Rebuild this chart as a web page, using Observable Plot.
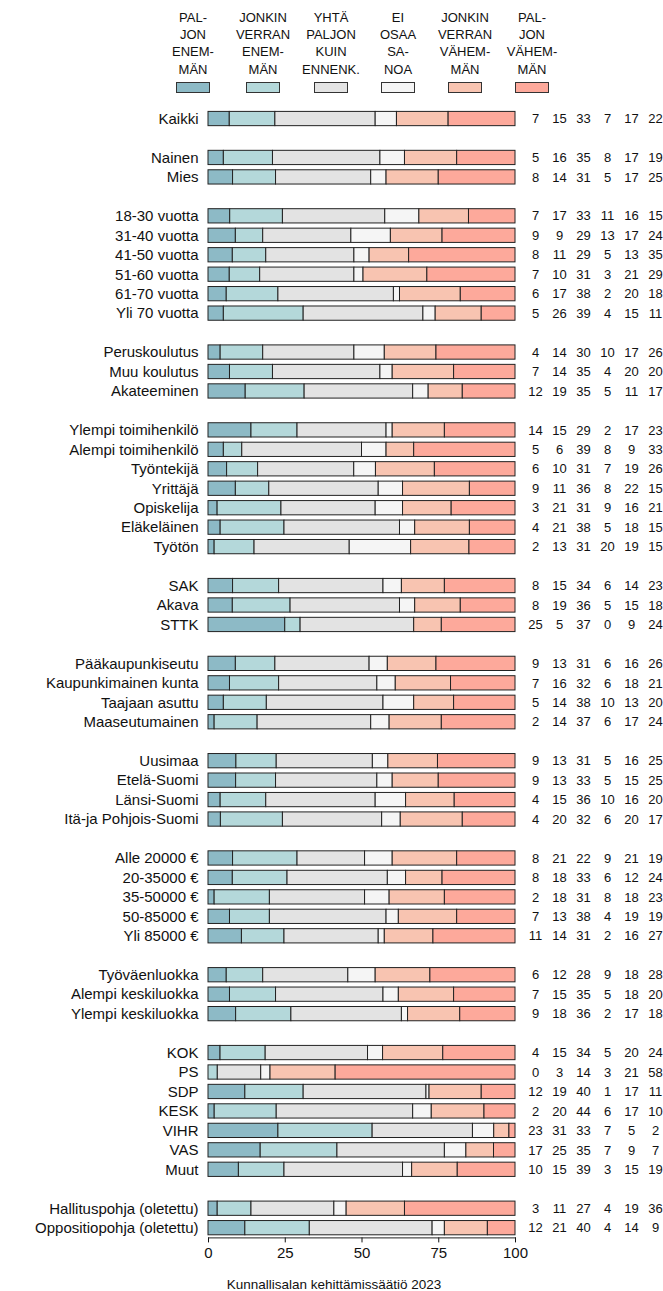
<!DOCTYPE html>
<html>
<head>
<meta charset="utf-8">
<script src="https://cdn.jsdelivr.net/npm/d3@7"></script>
<script src="https://cdn.jsdelivr.net/npm/@observablehq/plot@0.6"></script>
<style>
  html, body { margin: 0; padding: 0; background: #fff; }
  body { width: 663px; height: 1291px; position: relative; overflow: hidden;
         font-family: "Liberation Sans", Arial, sans-serif; color: #111; }
  #chart { position: absolute; left: 0; top: 0; z-index: 1; }
  #legend { position: absolute; left: 0; top: 0; z-index: 2; }
  .leg { position: absolute; top: 9px; width: 80px; margin-left: -40px; text-align: center;
         font-size: 13px; line-height: 17.2px; color: #111; }
  .leg .sw { width: 32px; height: 9px; border: 1px solid #333; margin: 4px auto 0 auto; }
  #caption { position: absolute; top: 1277px; left: 0; width: 668px; text-align: center; font-size: 13.5px; color: #111; z-index: 2; }
</style>
</head>
<body>
<div id="legend"></div>
<div id="chart"></div>
<div id="caption">Kunnallisalan kehittämissäätiö 2023</div>
<script>
// ---- data ----
const categories = [
  "Kaikki",
  "Nainen", "Mies",
  "18-30 vuotta", "31-40 vuotta", "41-50 vuotta", "51-60 vuotta", "61-70 vuotta", "Yli 70 vuotta",
  "Peruskoulutus", "Muu koulutus", "Akateeminen",
  "Ylempi toimihenkilö", "Alempi toimihenkilö", "Työntekijä", "Yrittäjä", "Opiskelija", "Eläkeläinen", "Työtön",
  "SAK", "Akava", "STTK",
  "Pääkaupunkiseutu", "Kaupunkimainen kunta", "Taajaan asuttu", "Maaseutumainen",
  "Uusimaa", "Etelä-Suomi", "Länsi-Suomi", "Itä-ja Pohjois-Suomi",
  "Alle 20000 €", "20-35000 €", "35-50000 €", "50-85000 €", "Yli 85000 €",
  "Työväenluokka", "Alempi keskiluokka", "Ylempi keskiluokka",
  "KOK", "PS", "SDP", "KESK", "VIHR", "VAS", "Muut",
  "Hallituspohja (oletettu)", "Oppositiopohja (oletettu)"
];
const groupSizes = [1, 2, 6, 3, 7, 3, 4, 4, 5, 3, 7, 2];

const seriesNames = [
  "PAL-\nJON\nENEM-\nMÄN",
  "JONKIN\nVERRAN\nENEM-\nMÄN",
  "YHTÄ\nPALJON\nKUIN\nENNENK.",
  "EI\nOSAA\nSA-\nNOA",
  "JONKIN\nVERRAN\nVÄHEM-\nMÄN",
  "PAL-\nJON\nVÄHEM-\nMÄN"
];
const seriesColors = ["#8dbac6", "#b4d8da", "#e3e3e3", "#f5f5f5", "#f8c4b1", "#fda99b"];

const paljonEnemman = [7, 5,8, 7,9,8,7,6,5, 4,7,12, 14,5,6,9,3,4,2, 8,8,25, 9,7,5,2, 9,9,4,4, 8,8,2,7,11, 6,7,9, 4,0,12,2,23,17,10, 3,12];
const jonkinEnemman = [15, 16,14, 17,9,11,10,17,26, 14,14,19, 15,6,10,11,21,21,13, 15,19,5, 13,16,14,14, 13,13,15,20, 21,18,18,13,14, 12,15,18, 15,3,19,20,31,25,15, 11,21];
const yhtaPaljon    = [33, 35,31, 33,29,29,31,38,39, 30,35,35, 29,39,31,36,31,38,31, 34,36,37, 31,32,38,37, 31,33,36,32, 22,33,31,38,31, 28,35,36, 34,14,40,44,33,35,39, 27,40];
const eiOsaaSanoa   = [7, 8,5, 11,13,5,3,2,4, 10,4,5, 2,8,7,8,9,5,20, 6,5,0, 6,6,10,6, 5,5,10,6, 9,6,8,4,2, 9,5,2, 5,3,1,6,7,7,3, 4,4];
const jonkinVahemman= [17, 17,17, 16,17,13,21,20,15, 17,20,11, 17,9,19,22,16,18,19, 14,15,9, 16,18,13,17, 16,15,16,20, 21,12,18,19,16, 18,18,17, 20,21,17,17,5,9,15, 19,14];
const paljonVahemman= [22, 19,25, 15,24,35,29,18,11, 26,20,17, 23,33,26,15,21,15,15, 23,18,24, 26,21,20,24, 25,25,20,17, 19,24,23,19,27, 28,20,18, 24,58,11,10,2,7,19, 36,9];

const xTicks = [0, 25, 50, 75, 100];

// ---- build tables ----
const seriesValues = [paljonEnemman, jonkinEnemman, yhtaPaljon, eiOsaaSanoa, jonkinVahemman, paljonVahemman];

// y domain with blank spacer rows between groups
const yDomain = [];
{
  let k = 0;
  groupSizes.forEach((n, g) => {
    if (g > 0) yDomain.push("__gap" + g);
    for (let j = 0; j < n; j++) yDomain.push(categories[k++]);
  });
}

const rows = categories.map((c, i) => ({category: c, values: seriesValues.map(s => s[i])}));
const tidy = [];
rows.forEach(r => r.values.forEach((v, si) => tidy.push({category: r.category, series: seriesNames[si], value: v})));

// ---- legend (HTML) ----
const legendCenters = [193, 263, 331, 398, 465, 532];
const legend = document.getElementById("legend");
seriesNames.forEach((name, i) => {
  const d = document.createElement("div");
  d.className = "leg";
  d.style.left = legendCenters[i] + "px";
  d.innerHTML = name.split("\n").join("<br>") + `<div class="sw" style="background:${seriesColors[i]}"></div>`;
  legend.appendChild(d);
});

// ---- chart ----
const H = 1265;
const chart = Plot.plot({
  width: 663,
  height: H,
  marginLeft: 208,
  marginRight: 148,
  marginTop: 108.8,
  marginBottom: H - 1237.4,
  style: {fontFamily: "'Liberation Sans', Arial, sans-serif", fontSize: "15px", color: "#111", background: "transparent"},
  x: {domain: [0, 1], label: null},
  y: {type: "band", domain: yDomain, padding: 0, round: false, label: null},
  color: {domain: seriesNames, range: seriesColors},
  marks: [
    Plot.barX(tidy, Plot.stackX({
      x: "value", y: "category", fill: "series", offset: "normalize",
      stroke: "#222", strokeWidth: 1, insetTop: 2.6, insetBottom: 2.6
    })),
    ...seriesNames.map((_, si) => Plot.text(rows, {
      y: "category", text: d => String(d.values[si]), frameAnchor: "right",
      dx: 20 + 24 * si, textAnchor: "middle", fontSize: 13, fill: "#111"
    })),
    Plot.axisY({tickSize: 0, tickPadding: 10, fontSize: 15,
      tickFormat: d => d.startsWith("__gap") ? "" : d}),
    Plot.axisX({ticks: xTicks.map(t => t / 100), tickFormat: d => String(Math.round(d * 100)),
      tickSize: 5, tickPadding: 4, fontSize: 15}),
    Plot.frame({anchor: "bottom", stroke: "#222"})
  ]
});
document.getElementById("chart").appendChild(chart);
</script>
</body>
</html>
